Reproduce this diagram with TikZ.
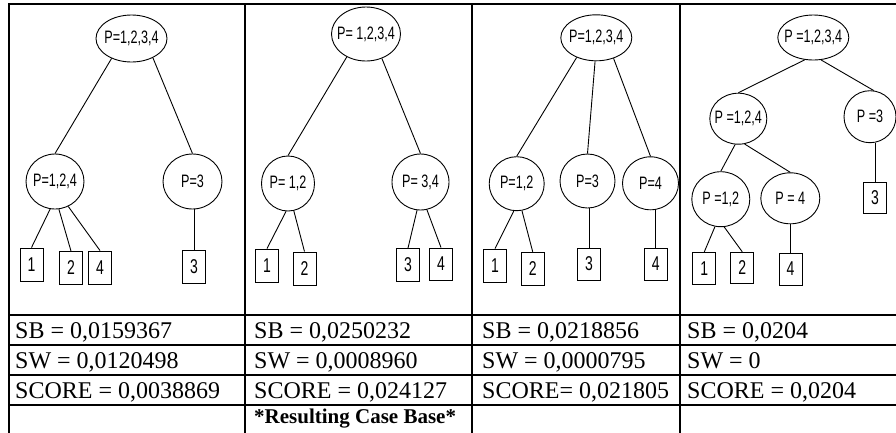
\documentclass[tikz,border=0pt]{standalone}
\usepackage{fontspec}
\setmainfont{Liberation Serif}
\newfontfamily\treefont[FakeStretch=0.7]{Liberation Sans}
\usetikzlibrary{shapes.geometric}
\newcommand{\labfont}{\treefont\fontsize{18}{20}\selectfont}
\newcommand{\digfont}{\treefont\fontsize{20}{22}\selectfont}
\begin{document}
\begin{tikzpicture}[x=1pt,y=-1pt,
  grid/.style={line width=2pt, line cap=rect},
  edge/.style={line width=0.9pt},
  el/.style n args={3}{ellipse, draw, line width=0.9pt, inner sep=0pt,
     minimum width=#1pt, minimum height=#2pt,
     label={[font=\labfont, inner sep=0pt]center:#3}},
  bx/.style={rectangle, draw, line width=0.9pt, inner sep=0pt,
     minimum width=23pt, minimum height=#1pt, font=\digfont},
  tt/.style={anchor=base west, inner sep=0pt, font=\fontsize{24}{28}\selectfont},
  tb/.style={anchor=base west, inner sep=0pt, font=\fontsize{21}{24}\selectfont\bfseries}]
\useasboundingbox (0,0) rectangle (896,432);

% table grid
\draw[grid] (9,432) -- (9,4) -- (896,4);
\foreach \x in {245,472,680} \draw[grid] (\x,4) -- (\x,432);
\foreach \y in {315,345,375,405} \draw[grid] (9,\y) -- (896,\y);

% panel 1
\node[el={71}{47}{P=1,2,3,4}] (a0) at (131.5,38.5) {};
\node[el={58}{55}{P=1,2,4}] (a1) at (55,181.5) {};
\node[el={59}{55}{P=3}] (a2) at (192.5,181.5) {};
\node[bx=33] (a3) at (31.5,264.5) {1};
\node[bx=33] (a4) at (71,268) {2};
\node[bx=33] (a5) at (100,267.5) {4};
\node[bx=33] (a6) at (194,266.5) {3};
\draw[edge] (a0.225) -- (a1.north);
\draw[edge] (a0.318) -- (a2.north);
\draw[edge] (a1.260) -- (a3.north);
\draw[edge] (a1.278) -- (a4.north);
\draw[edge] (a1.298) -- (a5.north);
\draw[edge] (a6.north |- a2.south) -- (a6.north);

% panel 2
\node[el={69}{54}{P= 1,2,3,4}] (b0) at (366,34) {};
\node[el={53}{55}{P= 1,2}] (b1) at (288,183.5) {};
\node[el={57}{56}{P= 3,4}] (b2) at (420.5,182) {};
\node[bx=33] (b3) at (267,265.5) {1};
\node[bx=33] (b4) at (304.5,268.5) {2};
\node[bx=33] (b5) at (408,265) {3};
\node[bx=32] (b6) at (441,264) {4};
\draw[edge] (b0.230) -- (b1.north);
\draw[edge] (b0.303) -- (b2.north);
\draw[edge] (b1.266) -- (b3.north);
\draw[edge] (b1.282) -- (b4.north);
\draw[edge] (b2.263) -- (b5.north);
\draw[edge] (b2.283) -- (b6.north);

% panel 3
\node[el={71}{46}{P=1,2,3,4}] (c0) at (596.3,37.8) {};
\node[el={55}{54}{P=1,2}] (c1) at (516.7,183.7) {};
\node[el={55}{54}{P=3}] (c2) at (587.5,181) {};
\node[el={56}{53}{P=4}] (c3) at (650.5,183.3) {};
\node[bx=33] (c4) at (495,265.5) {1};
\node[bx=33] (c5) at (532.7,268.7) {2};
\node[bx=32] (c6) at (589,264) {3};
\node[bx=32] (c7) at (655.8,264) {4};
\draw[edge] (c0.225) -- (c1.north);
\draw[edge] (c0.267) -- (c2.north);
\draw[edge] (c0.310) -- (c3.north);
\draw[edge] (c1.264) -- (c4.north);
\draw[edge] (c1.281) -- (c5.north);
\draw[edge] (c6.north |- c2.south) -- (c6.north);
\draw[edge] (c7.north |- c3.south) -- (c7.north);

% panel 4
\node[el={71}{45}{P =1,2,3,4}] (d0) at (813.3,37.5) {};
\node[el={57}{51}{P =1,2,4}] (d1) at (738.3,118.7) {};
\node[el={52}{52}{P =3}] (d2) at (870,116.7) {};
\node[el={58}{55}{P =1,2}] (d3) at (720.8,199.2) {};
\node[el={59}{51}{P = 4}] (d4) at (790.3,198.3) {};
\node[bx=32] (d5) at (704.3,268.3) {1};
\node[bx=31] (d6) at (742.3,267.8) {2};
\node[bx=32] (d7) at (790.5,269) {4};
\node[bx=31] (d8) at (875,198) {3};
\draw[edge] (d0.249) -- (d1.north);
\draw[edge] (d0.289) -- (d2.82);
\draw[edge] (d1.263) -- (d3.north);
\draw[edge] (d1.284) -- (d4.north);
\draw[edge] (d3.258) -- (d5.north);
\draw[edge] (d3.277) -- (d6.north);
\draw[edge] (d7.north |- d4.south) -- (d7.north);
\draw[edge] (d8.north |- d2.south) -- (d8.north);

% table texts
\node[tt] (s11) at (15,338) {SB = 0,0159367};
\node[tt] (s12) at (15,368) {SW = 0,0120498};
\node[tt] (s13) at (15,398.5) {SCORE = 0,0038869};
\node[tt] (s21) at (254,338) {SB = 0,0250232};
\node[tt] (s22) at (254,368) {SW = 0,0008960};
\node[tt] (s23) at (254,398.5) {SCORE = 0,024127};
\node[tb] (s24) at (254,423) {*Resulting Case Base*};
\node[tt] (s31) at (482,338) {SB = 0,0218856};
\node[tt] (s32) at (482,368) {SW = 0,0000795};
\node[tt] (s33) at (482,398.5) {SCORE= 0,021805};
\node[tt] (s41) at (687,338) {SB = 0,0204};
\node[tt] (s42) at (687,368) {SW = 0};
\node[tt] (s43) at (687,398.5) {SCORE = 0,0204};
\end{tikzpicture}
\end{document}
